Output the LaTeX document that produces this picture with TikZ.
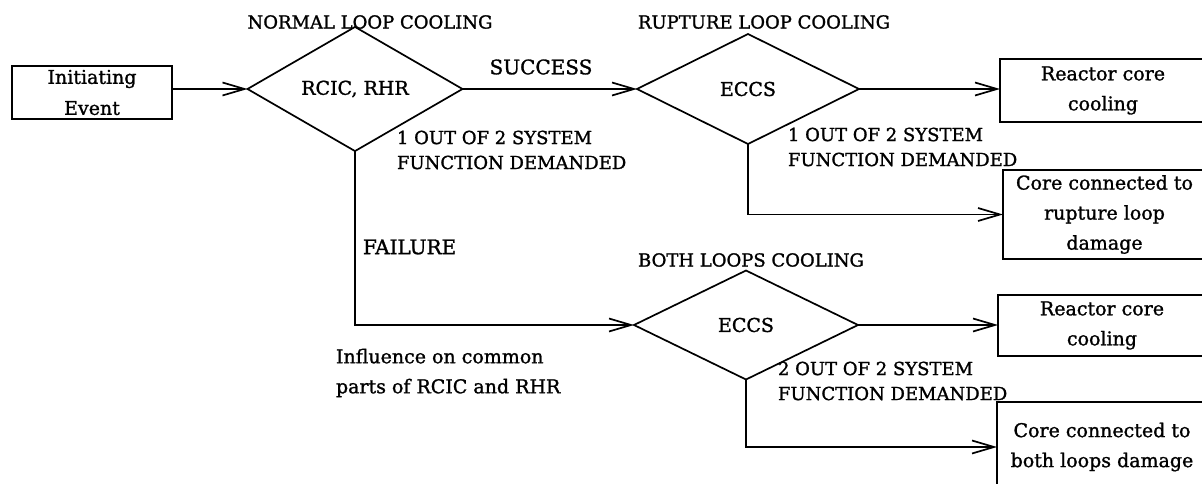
\documentclass[tikz,border=0pt]{standalone}
\usepackage{fontspec}
\setmainfont{DejaVu Serif}[FakeBold=1.3]
\usetikzlibrary{shapes.geometric,arrows.meta,calc}
\begin{document}
\begin{tikzpicture}[x=1pt,y=-1pt,
  line width=1.7pt,
  every node/.style={inner sep=0pt, outer sep=0pt},
  box/.style={draw, rectangle, align=center, font=\fontsize{19}{30}\selectfont},
  dia/.style={draw, diamond, font=\fontsize{19}{22}\selectfont, minimum width=222pt, minimum height=110pt},
  caplbl/.style={font=\fontsize{18}{25}\selectfont, align=left},
  biglbl/.style={font=\fontsize{20}{24}\selectfont},
  note/.style={font=\fontsize{19}{30}\selectfont, align=left},
  arr/.style={-{Straight Barb[length=22pt,width=13pt]}}
]
\useasboundingbox (0,0) rectangle (1202,484);
\clip (0,0) rectangle (1202,484);

% nodes
\node[box, minimum width=160pt, minimum height=53pt] (init) at (92,92.5) {Initiating\\[1pt]Event};
\node[dia, minimum width=215pt, minimum height=111pt] (d1) at (355,89) {RCIC, RHR};
\node[dia] (d2) at (748,89) {ECCS};
\node[dia, minimum width=224pt, minimum height=109pt] (d3) at (746,325) {ECCS};
\node[box, minimum width=206pt, minimum height=63pt] (rc1) at (1103,90.5) {Reactor core\\cooling};
\node[box, minimum width=203pt, minimum height=89pt] (rup) at (1104.5,214.5) {Core connected to\\rupture loop\\damage};
\node[box, minimum width=208pt, minimum height=61pt] (rc2) at (1102,325.5) {Reactor core\\cooling};
\node[box, minimum width=210pt, minimum height=90pt] (both) at (1102,447) {Core connected to\\both loops damage};

% labels
\node[caplbl] (lnormal) at (370,22) {NORMAL LOOP COOLING};
\node[caplbl] (lrupt) at (764,22) {RUPTURE LOOP COOLING};
\node[caplbl] (lboth) at (751,260) {BOTH LOOPS COOLING};
\node[biglbl] (lsucc) at (541,67) {SUCCESS};
\node[biglbl, anchor=west] (lfail) at (363,247) {FAILURE};
\node[caplbl, anchor=west] (ld1) at (397,150) {1 OUT OF 2 SYSTEM\\FUNCTION DEMANDED};
\node[caplbl, anchor=west] (ld2) at (788,147) {1 OUT OF 2 SYSTEM\\FUNCTION DEMANDED};
\node[caplbl, anchor=west] (ld3) at (778,381) {2 OUT OF 2 SYSTEM\\FUNCTION DEMANDED};
\node[note, anchor=west] (linf) at (336,373) {Influence on common\\parts of RCIC and RHR};

% connectors
\draw[arr] (d1.west -| init.east) -- (d1.west);
\draw[arr] (d1.east) -- (d2.west);
\draw[arr] (d2.east) -- (d2.east -| rc1.west);
\draw[arr] (d2.south) |- (rup.west);
\draw[arr] (d1.south) |- (d3.west);
\draw[arr] (d3.east) -- (d3.east -| rc2.west);
\draw[arr] (d3.south) |- (both.west);
\end{tikzpicture}
\end{document}
